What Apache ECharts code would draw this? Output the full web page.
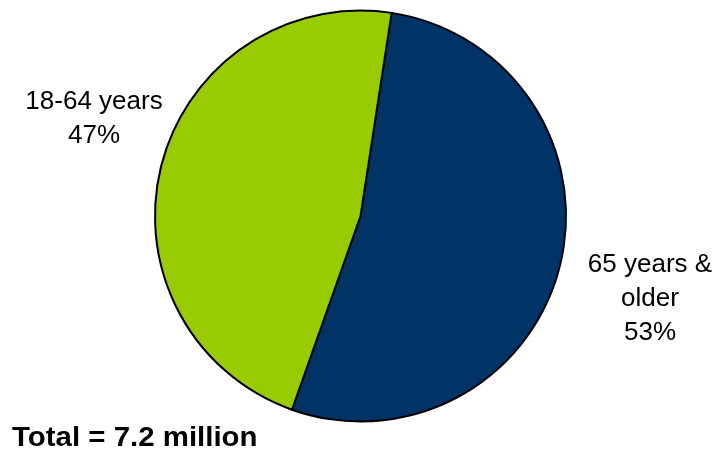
<!DOCTYPE html>
<html>
<head>
<meta charset="utf-8">
<script src="https://cdn.jsdelivr.net/npm/echarts@6/dist/echarts.min.js"></script>
<style>html,body{margin:0;padding:0;background:#fff}#c{width:716px;height:455px}</style>
</head>
<body>
<div id="c"></div>
<script>
const categories = ['65 years &\nolder', '18-64 years'];
const values = [53, 47];
const colors = ['#003366', '#99CC00'];
const totalLabel = 'Total = 7.2 million';

const chart = echarts.init(document.getElementById('c'), null, {renderer: 'canvas'});
const font = '"Liberation Sans", Arial, sans-serif';
chart.setOption({
  animation: false,
  series: [{
    type: 'pie',
    center: [360.5, 216],
    radius: 205.5,
    startAngle: 81.3,
    clockwise: true,
    label: {show: false},
    labelLine: {show: false},
    itemStyle: {borderColor: '#000', borderWidth: 2},
    emphasis: {disabled: true},
    data: categories.map((c, i) => ({name: c, value: values[i], itemStyle: {color: colors[i]}}))
  }],
  graphic: [
    {type: 'text', x: 650, y: 248, style: {text: categories[0] + '\n' + values[0] + '%', font: '26px ' + font, fill: '#000', align: 'center', verticalAlign: 'top', lineHeight: 34}},
    {type: 'text', x: 94, y: 85, style: {text: categories[1] + '\n' + values[1] + '%', font: '26px ' + font, fill: '#000', align: 'center', verticalAlign: 'top', lineHeight: 34}},
    {type: 'text', x: 12, y: 439, scaleX: 1.09, style: {text: totalLabel, font: 'bold 27px ' + font, fill: '#000', align: 'left', verticalAlign: 'middle'}}
  ]
});
</script>
</body>
</html>
